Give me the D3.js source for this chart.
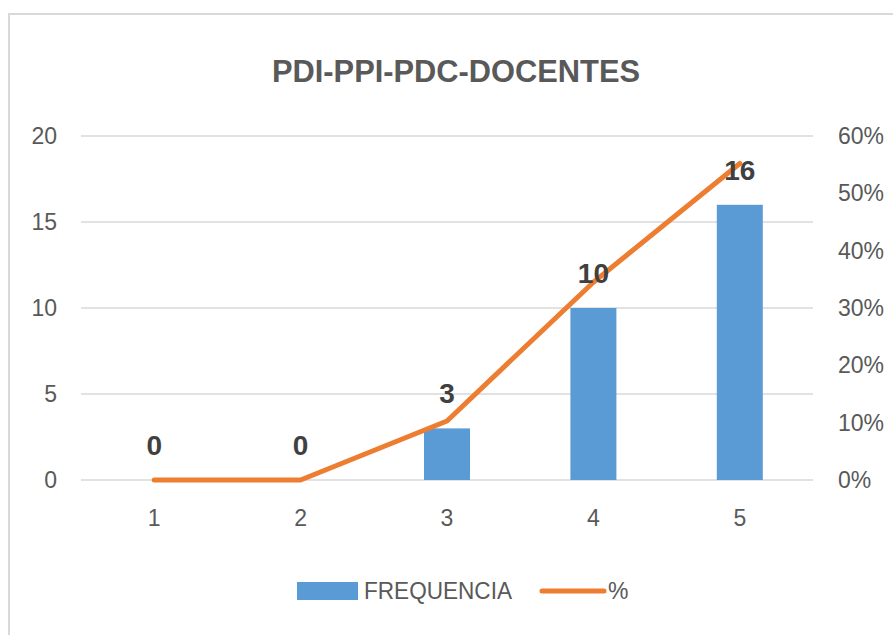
<!DOCTYPE html>
<html>
<head>
<meta charset="utf-8">
<script src="https://cdn.jsdelivr.net/npm/d3@7"></script>
<style>
  body { margin: 0; background: #fff; }
  svg text { font-family: "Liberation Sans", Arial, sans-serif; }
</style>
</head>
<body>
<div id="chart"></div>
<script>
// chart data
const categories = ['1', '2', '3', '4', '5'];
const frequencia = [0, 0, 3, 10, 16];
const percent = [0, 0, 0.103, 0.345, 0.552];
const leftTicks = [0, 5, 10, 15, 20];
const rightTicks = [0, 0.1, 0.2, 0.3, 0.4, 0.5, 0.6];

const W = 893, H = 635;
const margin = { top: 136, right: 80, bottom: 155, left: 81 };
const width = W - margin.left - margin.right;
const height = H - margin.top - margin.bottom;

const svg = d3.select('#chart')
    .append('svg')
    .attr('width', W)
    .attr('height', H);

// outer chart border (runs off the picture on right and bottom)
svg.append('rect')
    .attr('x', 9).attr('y', 14)
    .attr('width', 920).attr('height', 660)
    .attr('fill', 'none')
    .attr('stroke', '#d9d9d9')
    .attr('stroke-width', 2);

svg.append('text')
    .attr('x', 456).attr('y', 82)
    .attr('text-anchor', 'middle')
    .attr('font-size', 31)
    .attr('font-weight', 'bold')
    .attr('fill', '#595959')
    .attr('textLength', 368)
    .attr('lengthAdjust', 'spacingAndGlyphs')
    .text('PDI-PPI-PDC-DOCENTES');

const g = svg.append('g')
    .attr('transform', 'translate(' + margin.left + ',' + margin.top + ')');

const x = d3.scaleBand().domain(categories).range([0, width]);
const yL = d3.scaleLinear().domain([0, 20]).range([height, 0]);
const yR = d3.scaleLinear().domain([0, 0.6]).range([height, 0]);

// gridlines
g.append('g')
    .selectAll('line')
    .data(leftTicks)
    .join('line')
    .attr('x1', 0).attr('x2', width)
    .attr('y1', d => yL(d)).attr('y2', d => yL(d))
    .attr('stroke', '#d9d9d9')
    .attr('stroke-width', 1.5);

// left axis
const axisL = g.append('g')
    .call(d3.axisLeft(yL).tickValues(leftTicks).tickSize(0).tickPadding(24));
axisL.select('.domain').remove();
axisL.selectAll('text')
    .attr('font-size', 23)
    .attr('fill', '#595959')
    .attr('font-family', '"Liberation Sans", Arial, sans-serif');

// right axis
const axisR = g.append('g')
    .attr('transform', 'translate(' + width + ',0)')
    .call(d3.axisRight(yR).tickValues(rightTicks).tickFormat(d3.format('.0%')).tickSize(0).tickPadding(25));
axisR.select('.domain').remove();
axisR.selectAll('text')
    .attr('font-size', 23)
    .attr('fill', '#595959')
    .attr('font-family', '"Liberation Sans", Arial, sans-serif');

// x axis
const axisX = g.append('g')
    .attr('transform', 'translate(0,' + height + ')')
    .call(d3.axisBottom(x).tickSize(0).tickPadding(30));
axisX.select('.domain').remove();
axisX.selectAll('text')
    .attr('font-size', 23)
    .attr('fill', '#595959')
    .attr('font-family', '"Liberation Sans", Arial, sans-serif');

// bars
const barW = 46;
g.append('g')
    .selectAll('rect')
    .data(frequencia)
    .join('rect')
    .attr('x', (d, i) => x(categories[i]) + x.bandwidth() / 2 - barW / 2)
    .attr('y', d => yL(d))
    .attr('width', barW)
    .attr('height', d => height - yL(d))
    .attr('fill', '#5b9bd5');

// percent line
const line = d3.line()
    .x((d, i) => x(categories[i]) + x.bandwidth() / 2)
    .y(d => yR(d));
g.append('path')
    .datum(percent)
    .attr('d', line)
    .attr('fill', 'none')
    .attr('stroke', '#ed7d31')
    .attr('stroke-width', 5)
    .attr('stroke-linejoin', 'round')
    .attr('stroke-linecap', 'round');

// data labels
g.append('g')
    .selectAll('text')
    .data(frequencia)
    .join('text')
    .attr('x', (d, i) => x(categories[i]) + x.bandwidth() / 2)
    .attr('y', d => yL(d) - 25)
    .attr('text-anchor', 'middle')
    .attr('font-size', 28)
    .attr('font-weight', 'bold')
    .attr('fill', '#404040')
    .text(d => d);

// legend
const legend = svg.append('g');
legend.append('rect')
    .attr('x', 297).attr('y', 582)
    .attr('width', 61).attr('height', 18)
    .attr('fill', '#5b9bd5');
legend.append('text')
    .attr('x', 364).attr('y', 599)
    .attr('font-size', 23)
    .attr('fill', '#595959')
    .attr('textLength', 148)
    .attr('lengthAdjust', 'spacingAndGlyphs')
    .text('FREQUENCIA');
legend.append('line')
    .attr('x1', 542).attr('x2', 604)
    .attr('y1', 591).attr('y2', 591)
    .attr('stroke', '#ed7d31')
    .attr('stroke-width', 5)
    .attr('stroke-linecap', 'round');
legend.append('text')
    .attr('x', 608).attr('y', 599)
    .attr('font-size', 23)
    .attr('fill', '#595959')
    .text('%');
</script>
</body>
</html>
